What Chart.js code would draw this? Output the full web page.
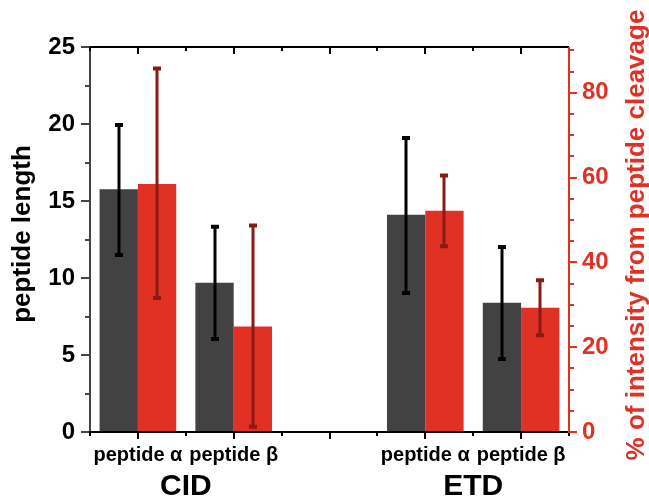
<!DOCTYPE html>
<html>
<head>
<meta charset="utf-8">
<script src="https://cdn.jsdelivr.net/npm/chart.js@4.4.1/dist/chart.umd.min.js"></script>
<style>
  html, body { margin: 0; padding: 0; background: #fff; }
  #wrap { width: 649px; height: 497px; }
</style>
</head>
<body>
<div id="wrap"><canvas id="chart"></canvas></div>
<script>
// categories (empty slot separates the CID and ETD groups)
const categories = ['peptide α', 'peptide β', '', 'peptide α', 'peptide β'];
const groups = ['CID', 'ETD'];

// peptide length: mean and error bar ends
const lengthMean = [15.76, 9.69, null, 14.11, 8.40];
const lengthLow  = [11.49, 6.04, null, 9.03, 4.74];
const lengthHigh = [19.94, 13.33, null, 19.09, 12.01];

// % of intensity from peptide cleavage: mean and error bar ends
const cleavageMean = [58.5, 24.9, null, 52.2, 29.3];
const cleavageLow  = [31.6, 1.25, null, 43.8, 22.8];
const cleavageHigh = [85.7, 48.7, null, 60.5, 35.8];

const lengthTicks = [0, 5, 10, 15, 20, 25];
const cleavageTicks = [0, 20, 40, 60, 80];

const GRAY = '#424242';
const RED = '#e03124';
const DARK_RED = '#8b1a14';
const FONT = '"Liberation Sans", Arial, Helvetica, sans-serif';

// axis frame, tick marks, error bars and titles
const decorations = {
  id: 'decorations',
  afterDatasetsDraw(chart) {
    const ctx = chart.ctx;
    const {left, right, top, bottom} = chart.chartArea;
    const x = chart.scales.x, y = chart.scales.y, y1 = chart.scales.y1;

    // error bars
    const errs = [[lengthLow, lengthHigh, y, '#000'], [cleavageLow, cleavageHigh, y1, DARK_RED]];
    errs.forEach(([lo, hi, scale, color], di) => {
      const meta = chart.getDatasetMeta(di);
      ctx.save();
      ctx.strokeStyle = color;
      ctx.lineWidth = 3;
      meta.data.forEach((bar, i) => {
        if (lo[i] == null) return;
        const bx = Math.round(bar.x);
        const y0 = scale.getPixelForValue(lo[i]);
        const y2 = scale.getPixelForValue(hi[i]);
        ctx.beginPath();
        ctx.moveTo(bx, y0); ctx.lineTo(bx, y2);
        ctx.stroke();
        ctx.lineWidth = 4;
        ctx.beginPath();
        ctx.moveTo(bx - 4, y0); ctx.lineTo(bx + 4, y0);
        ctx.moveTo(bx - 4, y2); ctx.lineTo(bx + 4, y2);
        ctx.stroke();
        ctx.lineWidth = 3;
      });
      ctx.restore();
    });

    ctx.save();
    ctx.lineWidth = 2;

    // left axis
    ctx.strokeStyle = '#444';
    ctx.beginPath();
    ctx.moveTo(left, top - 1); ctx.lineTo(left, bottom + 1);
    for (let v = 0; v <= 25; v += 2.5) {
      const py = Math.round(y.getPixelForValue(v));
      ctx.moveTo(left, py);
      ctx.lineTo(left - (lengthTicks.includes(v) ? 9 : 5), py);
    }
    ctx.stroke();

    // top and bottom axes with ticks
    ctx.strokeStyle = '#000';
    ctx.beginPath();
    ctx.moveTo(left, top); ctx.lineTo(right, top);
    ctx.moveTo(left - 1, bottom); ctx.lineTo(right, bottom);
    for (let i = 0; i < categories.length; i++) {
      const cx = Math.round(x.getPixelForValue(i));
      ctx.moveTo(cx, bottom); ctx.lineTo(cx, bottom + 7);
      ctx.moveTo(cx, top); ctx.lineTo(cx, top + 7);
    }
    for (let i = 0; i <= categories.length; i++) {
      const ex = Math.round(x.getPixelForValue(i - 0.5));
      ctx.moveTo(ex, bottom); ctx.lineTo(ex, bottom + 4);
      ctx.moveTo(ex, top); ctx.lineTo(ex, top + 4);
    }
    ctx.stroke();

    // right axis
    ctx.strokeStyle = RED;
    ctx.beginPath();
    ctx.moveTo(right, top); ctx.lineTo(right, bottom + 1);
    for (let v = 0; v <= 90; v += 5) {
      const py = Math.round(y1.getPixelForValue(v));
      ctx.moveTo(right, py);
      ctx.lineTo(right + (cleavageTicks.includes(v) ? 8 : 5), py);
    }
    ctx.stroke();

    // group labels under the categories
    ctx.fillStyle = '#000';
    ctx.font = 'bold 30px ' + FONT;
    ctx.textAlign = 'center';
    ctx.textBaseline = 'alphabetic';
    ctx.fillText(groups[0], x.getPixelForValue(0.5), 495);
    ctx.fillText(groups[1], x.getPixelForValue(3.5), 495);

    // axis titles, both reading bottom to top
    ctx.font = 'bold 26px ' + FONT;
    ctx.textBaseline = 'middle';
    ctx.save();
    ctx.translate(23, 234);
    ctx.rotate(-Math.PI / 2);
    ctx.fillText('peptide length', 0, 0);
    ctx.restore();
    ctx.fillStyle = RED;
    ctx.save();
    ctx.translate(637, 235);
    ctx.rotate(-Math.PI / 2);
    ctx.fillText('% of intensity from peptide cleavage', 0, 0);
    ctx.restore();

    ctx.restore();
  }
};

new Chart(document.getElementById('chart'), {
  type: 'bar',
  data: {
    labels: categories,
    datasets: [
      { label: 'peptide length', data: lengthMean, backgroundColor: GRAY, yAxisID: 'y' },
      { label: '% of intensity from peptide cleavage', data: cleavageMean, backgroundColor: RED, yAxisID: 'y1' }
    ]
  },
  options: {
    responsive: true,
    maintainAspectRatio: false,
    animation: false,
    datasets: { bar: { barPercentage: 1, categoryPercentage: 0.8 } },
    layout: { padding: { top: 47, left: 0, right: 0, bottom: 0 } },
    plugins: { legend: { display: false }, tooltip: { enabled: false } },
    scales: {
      x: {
        grid: { display: false, drawTicks: false },
        border: { display: false },
        ticks: { color: '#000', font: { family: FONT, size: 20, weight: 'bold' }, padding: 11, maxRotation: 0, autoSkip: false },
        afterFit(scale) { scale.height = 65; }
      },
      y: {
        position: 'left',
        min: 0, max: 25,
        grid: { display: false, drawTicks: false },
        border: { display: false },
        ticks: {
          stepSize: 2.5,
          color: '#000',
          font: { family: FONT, size: 24, weight: 'bold' },
          padding: 15,
          callback: v => lengthTicks.includes(v) ? v : ''
        },
        afterFit(scale) { scale.width = 90; }
      },
      y1: {
        position: 'right',
        min: 0, max: 90.8,
        grid: { display: false, drawTicks: false },
        border: { display: false },
        ticks: {
          stepSize: 5,
          includeBounds: false,
          color: RED,
          font: { family: FONT, size: 24, weight: 'bold' },
          padding: 13,
          callback: v => cleavageTicks.includes(v) ? v : ''
        },
        afterFit(scale) { scale.width = 80; }
      }
    }
  },
  plugins: [decorations]
});
</script>
</body>
</html>
